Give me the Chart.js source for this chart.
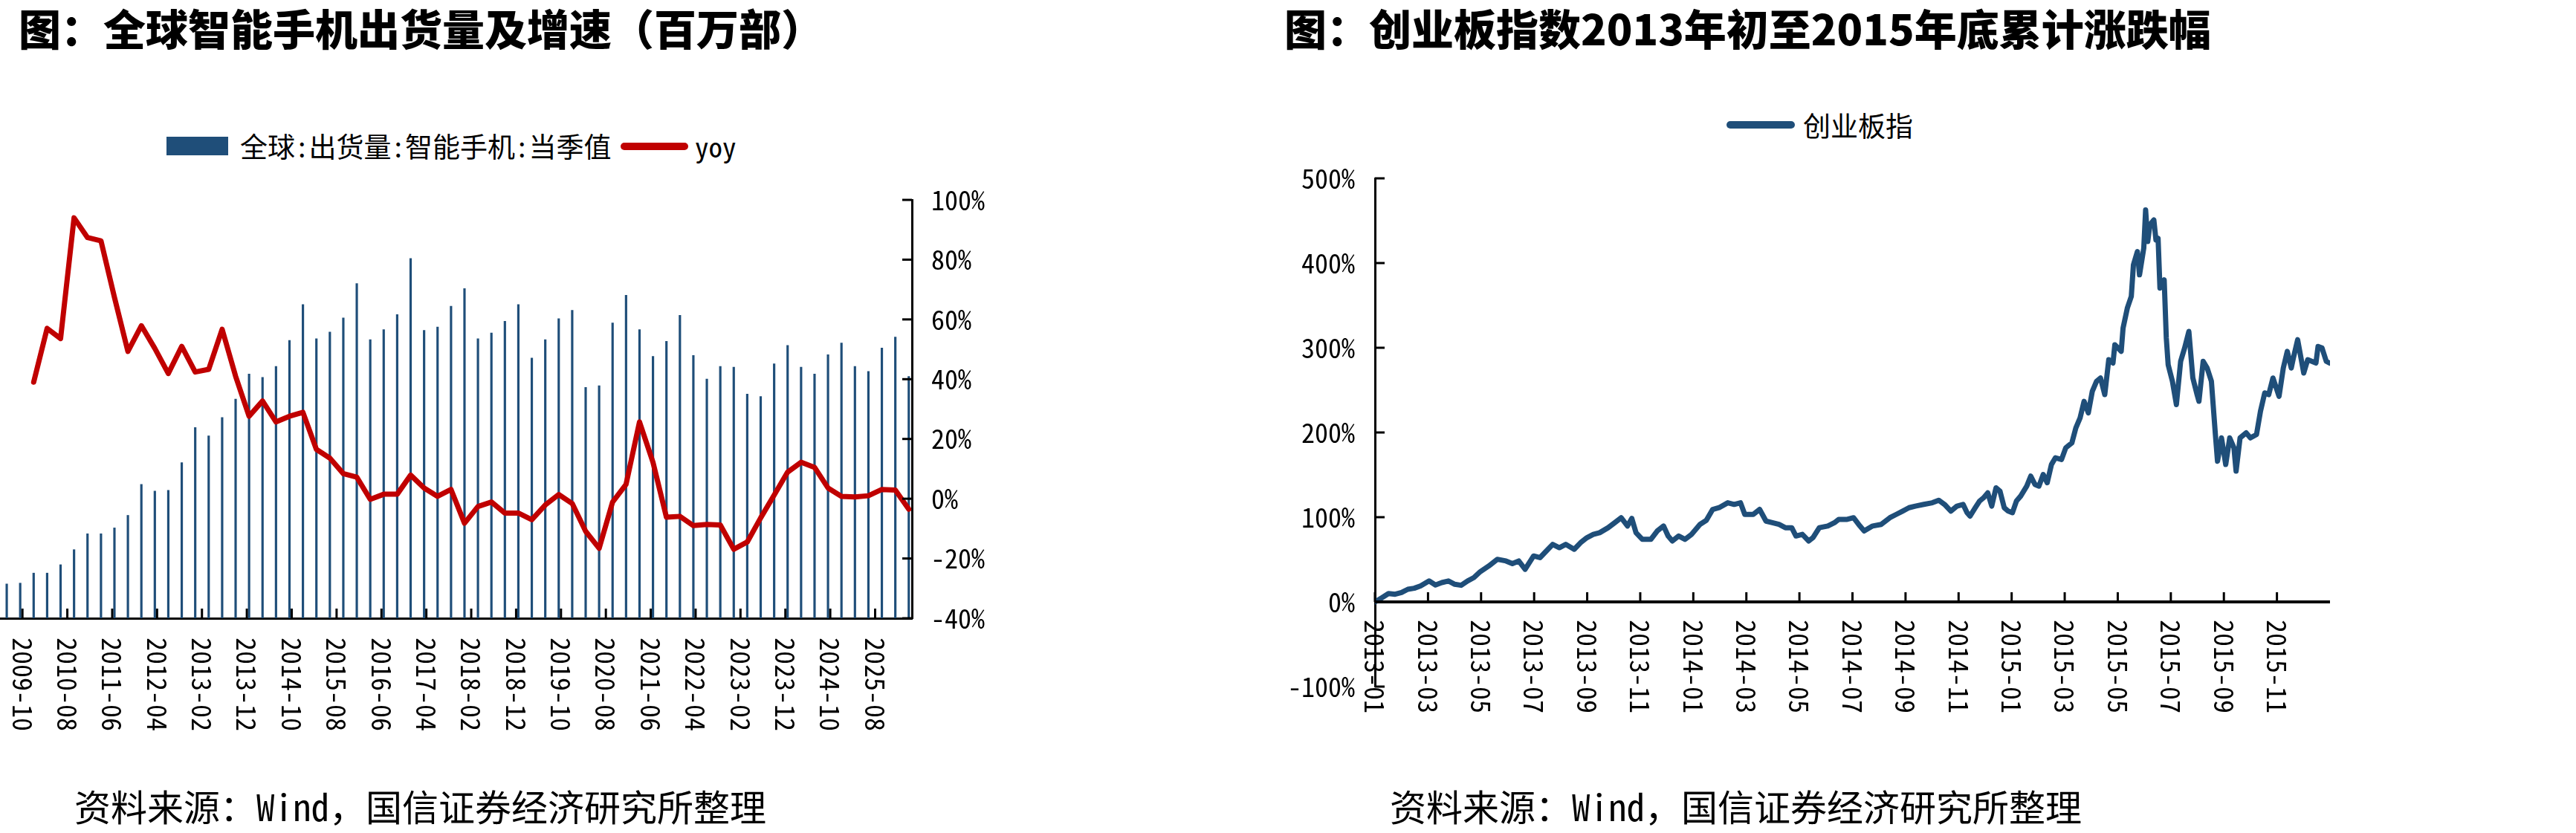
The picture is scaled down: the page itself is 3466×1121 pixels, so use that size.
<!DOCTYPE html>
<html>
<head>
<meta charset="utf-8">
<script src="https://cdn.jsdelivr.net/npm/chart.js@4.4.1/dist/chart.umd.min.js"></script>
<style>
  body { margin: 0; background: #fff; width: 3466px; height: 1121px; position: relative; overflow: hidden;
         font-family: "Noto Sans Mono CJK SC", "Noto Sans CJK SC", monospace; color: #000; }
  .abs { position: absolute; white-space: nowrap; }
  .title { font-family: "Noto Sans CJK SC", sans-serif; font-weight: 900; font-size: 57px; line-height: 57px; top: 8px; }
  .src { font-size: 49px; line-height: 49px; top: 1059px; }
  .leg { font-size: 37px; line-height: 37px; }
  canvas { position: absolute; top: 0; }
</style>
</head>
<body>
<div class="abs title" style="left:25px">图：全球智能手机出货量及增速（百万部）</div>
<div class="abs title" style="left:1728px">图：创业板指数2013年初至2015年底累计涨跌幅</div>

<!-- legends -->
<div class="abs" style="left:224px;top:184px;width:83px;height:25px;background:#1f4e79"></div>
<div class="abs leg" style="left:323px;top:178px">全球:出货量:智能手机:当季值</div>
<div class="abs" style="left:835px;top:192px;width:91px;height:10px;border-radius:5px;background:#c00000"></div>
<div class="abs leg" style="left:935px;top:178px">yoy</div>
<div class="abs" style="left:2323px;top:163px;width:92px;height:10px;border-radius:5px;background:#1f4e79"></div>
<div class="abs leg" style="left:2426px;top:150px">创业板指</div>

<canvas id="shipChart" width="1400" height="1121" style="left:0"></canvas>
<canvas id="gemChart" width="1766" height="1121" style="left:1700px"></canvas>

<div class="abs src" style="left:100px">资料来源：Wind，国信证券经济研究所整理</div>
<div class="abs src" style="left:1870px">资料来源：Wind，国信证券经济研究所整理</div>

<script>
// ---- 全球智能手机出货量（季度）----
const shipQuarters = [
  '2009-06','2009-09','2009-12',
  '2010-03','2010-06','2010-09','2010-12',
  '2011-03','2011-06','2011-09','2011-12',
  '2012-03','2012-06','2012-09','2012-12',
  '2013-03','2013-06','2013-09','2013-12',
  '2014-03','2014-06','2014-09','2014-12',
  '2015-03','2015-06','2015-09','2015-12',
  '2016-03','2016-06','2016-09','2016-12',
  '2017-03','2017-06','2017-09','2017-12',
  '2018-03','2018-06','2018-09','2018-12',
  '2019-03','2019-06','2019-09','2019-12',
  '2020-03','2020-06','2020-09','2020-12',
  '2021-03','2021-06','2021-09','2021-12',
  '2022-03','2022-06','2022-09','2022-12',
  '2023-03','2023-06','2023-09','2023-12',
  '2024-03','2024-06','2024-09','2024-12',
  '2025-03','2025-06','2025-09','2025-12',
  '2026-03'
];
const shipValues = [
  41, 42, 54,
  54, 64, 82, 101,
  101, 108, 123, 160,
  152, 153, 186, 228,
  218, 240, 262, 292,
  288, 301, 332, 375,
  334, 342, 359, 400,
  333, 345, 363, 430,
  344, 348, 373, 394,
  334, 341, 355, 375,
  311, 333, 358, 368,
  276, 278, 353, 386,
  345, 313, 331, 362,
  314, 286, 301, 300,
  268, 265, 304, 326,
  300, 292, 315, 329,
  301, 295, 323, 336,
  289
];
const shipYoy = [
  null, null, 39.0,
  57.0, 53.6, 94.0, 87.4,
  86.3, 67.4, 49.3, 57.9,
  50.3, 41.9, 51.0, 42.4,
  43.3, 56.7, 41.0, 27.6,
  32.7, 25.7, 27.6, 28.9,
  16.5, 13.6, 8.4, 7.2,
  -0.2, 1.5, 1.5, 7.9,
  3.6, 0.8, 3.1, -8.2,
  -2.6, -1.1, -4.8, -4.8,
  -7.0, -2.1, 1.4, -1.6,
  -10.9, -16.6, -1.1, 4.8,
  25.7, 12.2, -6.2, -5.9,
  -9.0, -8.6, -8.8, -16.9,
  -14.5, -6.4, 1.2, 8.9,
  12.2, 10.5, 3.6, 0.8,
  0.6, 1.0, 3.1, 2.9,
  -3.5
];
const shipTickLabels = ['2009-10','2010-08','2011-06','2012-04','2013-02','2013-12','2014-10','2015-08',
  '2016-06','2017-04','2018-02','2018-12','2019-10','2020-08','2021-06','2022-04','2023-02','2023-12',
  '2024-10','2025-08'];

// ---- 创业板指累计涨跌幅（月份为自2013年1月初起的月数）----
const gemMonth = [
  0.00,0.27,0.51,0.76,1.00,1.24,1.48,1.72,2.04,2.28,2.52,2.77,3.01,3.25,3.49,3.73,3.97,4.29,4.61,4.94,
  5.18,5.42,5.66,5.98,6.22,6.46,6.70,6.95,7.19,7.51,7.75,7.99,8.23,8.47,8.79,9.04,9.28,9.52,9.68,9.84,
  10.08,10.40,10.64,10.88,11.05,11.21,11.45,11.69,11.93,12.25,12.49,12.73,12.97,13.30,13.54,13.78,13.94,14.26,14.50,14.74,
  14.98,15.23,15.47,15.71,15.87,16.11,16.35,16.51,16.75,17.07,17.32,17.48,17.80,18.04,18.28,18.44,18.76,19.08,19.41,19.65,
  19.89,20.13,20.37,20.69,21.01,21.25,21.47,21.71,21.94,22.17,22.32,22.43,22.63,22.79,22.94,23.10,23.25,23.41,23.56,23.72,
  23.87,24.03,24.18,24.34,24.57,24.72,24.88,25.03,25.19,25.34,25.50,25.65,25.88,26.04,26.27,26.42,26.58,26.73,26.89,27.04,
  27.20,27.35,27.51,27.66,27.82,27.89,28.13,28.20,28.36,28.51,28.59,28.74,28.82,28.98,29.05,29.13,29.21,29.36,29.44,29.52,
  29.59,29.75,29.83,29.90,30.06,30.21,30.37,30.52,30.68,30.83,30.99,31.06,31.22,31.37,31.53,31.68,31.76,31.91,32.07,32.22,
  32.38,32.46,32.61,32.84,33.00,33.23,33.38,33.54,33.69,33.85,34.08,34.24,34.39,34.54,34.62,34.78,35.01,35.16,35.47,35.55,
  35.70,35.86,35.98
];
const gemPct = [
  0,5.1,9.8,9.0,11.0,14.9,16.1,18.9,24.7,20.0,22.8,24.7,20.8,19.6,24.7,28.7,35.7,42.4,50.3,48.3,
  45.2,48.3,38.5,54.2,52.2,60.1,67.9,64.0,67.9,62.1,69.9,75.8,79.7,81.7,87.6,93.5,99.4,89.6,98.6,81.7,
  73.8,73.8,83.7,89.6,77.8,71.9,77.8,73.8,79.7,91.5,96.2,109.2,111.2,117.0,115.1,117.0,103.3,103.3,109.2,95.4,
  93.5,91.5,87.6,87.6,77.8,79.7,71.9,75.8,87.6,89.6,93.5,97.4,97.4,99.4,89.6,83.7,89.6,91.5,99.4,103.3,
  107.2,111.2,113.1,115.1,117.0,120.0,115.1,107.2,113.1,115.1,105.3,101.3,111.2,119.0,122.9,128.8,113.1,134.7,130.8,111.2,
  107.2,105.3,119.0,124.9,136.7,148.5,138.6,136.7,150.4,140.6,162.2,170.1,168.1,181.9,187.7,205.4,217.2,236.8,223.1,248.6,
  260.4,264.3,244.7,285.9,282.0,303.6,295.8,323.3,346.8,360.6,397.9,413.6,386.1,417.5,462.7,425.4,445.0,450.9,427.3,429.3,
  370.4,380.2,311.5,280.0,260.4,232.9,284.0,299.7,319.3,264.3,244.7,236.8,284.0,276.1,260.4,197.6,166.1,193.6,162.2,193.6,
  181.9,154.4,193.6,199.5,193.6,197.6,225.1,246.7,244.7,264.3,242.7,276.1,295.8,276.1,287.9,309.5,270.2,285.9,282.0,301.6,
  299.7,284.0,282.0
];
const gemTickLabels = ['2013-01','2013-03','2013-05','2013-07','2013-09','2013-11','2014-01','2014-03','2014-05',
  '2014-07','2014-09','2014-11','2015-01','2015-03','2015-05','2015-07','2015-09','2015-11'];

const BLUE = '#1f4e79';
const RED = '#c00000';
const tickFont = { family: '"Noto Sans Mono CJK SC", "Noto Sans CJK SC", monospace', size: 36 };

// 月份偏移
function monthsFrom(str, baseY, baseM) {
  const [y, m] = str.split('-').map(Number);
  return (y - baseY) * 12 + (m - baseM);
}
const shipX = s => monthsFrom(s, 2009, 10);
const gemX = s => monthsFrom(s, 2013, 1);

// 竖排日期标签（顺时针旋转）
function drawDateLabels(chart, labels, toX, top) {
  const ctx = chart.ctx, xs = chart.scales.x;
  ctx.save();
  ctx.font = '36px "Noto Sans Mono CJK SC", "Noto Sans CJK SC", monospace';
  ctx.fillStyle = '#000';
  ctx.textAlign = 'left';
  ctx.textBaseline = 'middle';
  labels.forEach(l => {
    ctx.save();
    ctx.translate(xs.getPixelForValue(toX(l)), top);
    ctx.rotate(Math.PI / 2);
    ctx.fillText(l, 0, 0);
    ctx.restore();
  });
  ctx.restore();
}

function line(ctx, x1, y1, x2, y2) {
  ctx.beginPath(); ctx.moveTo(x1, y1); ctx.lineTo(x2, y2); ctx.stroke();
}

// 左图：刻度线朝内 + 日期标签
const shipDecor = {
  id: 'shipDecor',
  afterDraw(chart) {
    const ctx = chart.ctx, a = chart.chartArea;
    const xs = chart.scales.x, ys = chart.scales.yPct;
    ctx.save();
    ctx.strokeStyle = '#000';
    ctx.lineWidth = 3;
    ys.ticks.forEach(t => {
      const y = ys.getPixelForValue(t.value);
      line(ctx, a.right - 13, y, a.right, y);
    });
    shipTickLabels.forEach(l => {
      const x = xs.getPixelForValue(shipX(l));
      line(ctx, x, a.bottom - 13, x, a.bottom);
    });
    ctx.restore();
    drawDateLabels(chart, shipTickLabels, shipX, a.bottom + 26);
  }
};

// 右图：0轴、刻度线、日期标签
const gemDecor = {
  id: 'gemDecor',
  afterDraw(chart) {
    const ctx = chart.ctx, a = chart.chartArea;
    const xs = chart.scales.x, ys = chart.scales.y;
    const y0 = ys.getPixelForValue(0);
    ctx.save();
    ctx.strokeStyle = '#000';
    ctx.lineWidth = 4;
    line(ctx, a.left, y0, a.right, y0);
    ctx.lineWidth = 3;
    ys.ticks.forEach(t => {
      const y = ys.getPixelForValue(t.value);
      line(ctx, a.left, y, a.left + 13, y);
    });
    gemTickLabels.forEach(l => {
      const x = xs.getPixelForValue(gemX(l));
      line(ctx, x, y0 - 13, x, y0);
    });
    ctx.restore();
    drawDateLabels(chart, gemTickLabels, gemX, y0 + 24);
  }
};

new Chart(document.getElementById('shipChart'), {
  type: 'bar',
  data: {
    datasets: [
      {
        type: 'line',
        label: 'yoy',
        data: shipQuarters.map((q, i) => ({ x: shipX(q) + 0.5, y: shipYoy[i] })),
        yAxisID: 'yPct',
        borderColor: RED,
        borderWidth: 7,
        pointRadius: 0,
        tension: 0,
        borderJoinStyle: 'round',
        borderCapStyle: 'round',
        spanGaps: false,
        order: 0
      },
      {
        type: 'bar',
        label: '全球:出货量:智能手机:当季值',
        data: shipQuarters.map((q, i) => ({ x: shipX(q) + 0.5, y: shipValues[i] })),
        yAxisID: 'yBar',
        backgroundColor: BLUE,
        barThickness: 2.5,
        order: 1
      }
    ]
  },
  options: {
    responsive: false,
    animation: false,
    layout: { padding: { top: 269, left: 0, right: 0, bottom: 0 } },
    plugins: { legend: { display: false }, tooltip: { enabled: false } },
    scales: {
      x: {
        type: 'linear',
        offset: false,
        min: -5,
        max: 198.2,
        grid: { display: false, drawTicks: false, offset: false },
        border: { display: true, color: '#000', width: 3 },
        ticks: { display: false },
        afterBuildTicks: s => { s.ticks = shipTickLabels.map(l => ({ value: shipX(l) })); },
        afterFit: s => { s.height = 289; }
      },
      yBar: {
        position: 'left',
        display: false,
        min: 0,
        max: 500
      },
      yPct: {
        position: 'right',
        min: -40,
        max: 100,
        grid: { display: false, drawTicks: false },
        border: { display: true, color: '#000', width: 3 },
        ticks: {
          stepSize: 20,
          padding: 26,
          color: '#000',
          font: tickFont,
          callback: v => v + '%'
        },
        afterFit: s => { s.width = 173; }
      }
    }
  },
  plugins: [shipDecor]
});

new Chart(document.getElementById('gemChart'), {
  type: 'line',
  data: {
    datasets: [{
      label: '创业板指',
      data: gemMonth.map((m, i) => ({ x: m, y: gemPct[i] })),
      borderColor: BLUE,
      borderWidth: 7,
      pointRadius: 0,
      tension: 0,
      borderJoinStyle: 'round',
      borderCapStyle: 'round'
    }]
  },
  options: {
    responsive: false,
    animation: false,
    layout: { padding: { top: 240, left: 0, right: 331, bottom: 0 } },
    plugins: { legend: { display: false }, tooltip: { enabled: false } },
    scales: {
      x: {
        type: 'linear',
        min: 0,
        max: 36,
        grid: { display: false, drawTicks: false },
        border: { display: false },
        ticks: { display: false },
        afterBuildTicks: s => { s.ticks = gemTickLabels.map(l => ({ value: gemX(l) })); },
        afterFit: s => { s.height = 197; }
      },
      y: {
        position: 'left',
        min: -100,
        max: 500,
        grid: { display: false, drawTicks: false },
        border: { display: true, color: '#000', width: 3 },
        ticks: {
          stepSize: 100,
          padding: 27,
          color: '#000',
          font: tickFont,
          callback: v => v + '%'
        },
        afterFit: s => { s.width = 150; }
      }
    }
  },
  plugins: [gemDecor]
});
</script>
</body>
</html>
